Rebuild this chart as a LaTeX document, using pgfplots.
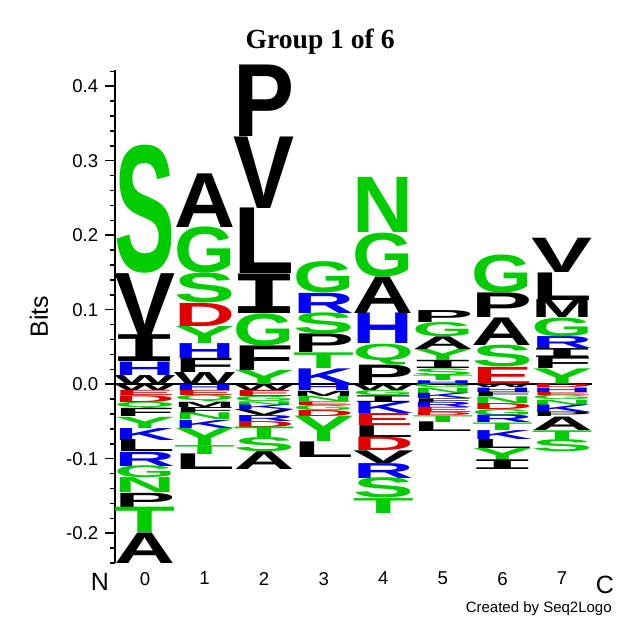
\documentclass[border=0pt]{standalone}
\usepackage{pgfplots}
\pgfplotsset{compat=1.18}
\usepackage{pgfplotstable}
\usepackage{graphicx}
\usepackage{fontspec}
\setmainfont{Liberation Sans}
\newfontfamily\titlefont{Liberation Serif}
\newfontfamily\monofont{DejaVu Sans Mono}
\definecolor{lgreen}{RGB}{0,204,0}
\definecolor{lred}{RGB}{225,0,0}
\definecolor{lblue}{RGB}{0,0,250}
% letter colours (Seq2Logo default scheme)
\def\lcA{black}\def\lcV{black}\def\lcL{black}\def\lcI{black}\def\lcP{black}
\def\lcW{black}\def\lcF{black}\def\lcM{black}
\def\lcD{lred}\def\lcE{lred}
\def\lcK{lblue}\def\lcR{lblue}\def\lcH{lblue}
\def\lcS{lgreen}\def\lcT{lgreen}\def\lcY{lgreen}\def\lcG{lgreen}
\def\lcN{lgreen}\def\lcQ{lgreen}\def\lcC{lgreen}
\newdimen\letterh
\newcommand\logoletter{%
  \pgfmathsetlength\letterh{\hval*372.5}%
  \ifdim\letterh<0.3pt \letterh=0.3pt\fi
  \edef\thelab{\pgfplotspointmeta}%
  \edef\thecol{\csname lc\thelab\endcsname}%
  \color{\thecol}%
  \if I\thelab
    \resizebox*{36pt}{\letterh}{\monofont\bfseries I}%
  \else
    \resizebox*{30.5pt}{\letterh}{\bfseries\thelab}%
  \fi}
\pgfplotsset{logo/.style={draw=none, mark=none,
  point meta=explicit symbolic,
  visualization depends on={\thisrow{hi}-\thisrow{lo} \as \hval},
  nodes near coords={\logoletter},
  nodes near coords align=center,
  every node near coord/.append style={anchor=center, inner sep=0pt, outer sep=0pt}}}
\pgfplotstableread{
x lo hi l
0 0 0.012 W
0 0.012 0.030 H
0 0.030 0.066 I
0 0.066 0.149 V
0 0.149 0.321 S
0 -0.008 0 W
0 -0.015 -0.008 E
0 -0.024 -0.015 D
0 -0.033 -0.024 Q
0 -0.044 -0.033 F
0 -0.059 -0.044 Y
0 -0.075 -0.059 K
0 -0.091 -0.075 L
0 -0.110 -0.091 R
0 -0.126 -0.110 G
0 -0.146 -0.126 N
0 -0.165 -0.146 P
0 -0.199 -0.165 T
0 -0.240 -0.199 A
}\colA
\pgfplotstableread{
x lo hi l
1 0 0.016 W
1 0.016 0.035 F
1 0.035 0.055 H
1 0.055 0.078 Y
1 0.078 0.109 D
1 0.109 0.149 S
1 0.149 0.211 G
1 0.211 0.283 A
1 -0.008 0 H
1 -0.015 -0.008 E
1 -0.024 -0.015 Q
1 -0.031 -0.024 M
1 -0.039 -0.031 F
1 -0.048 -0.039 N
1 -0.059 -0.048 K
1 -0.082 -0.059 Y
1 -0.094 -0.082 T
1 -0.115 -0.094 L
}\colB
\pgfplotstableread{
x lo hi l
2 0 0.019 Y
2 0.019 0.052 F
2 0.052 0.095 G
2 0.095 0.148 I
2 0.148 0.236 L
2 0.236 0.332 V
2 0.332 0.428 P
2 -0.008 0 W
2 -0.016 -0.008 E
2 -0.023 -0.016 G
2 -0.028 -0.023 N
2 -0.034 -0.028 K
2 -0.042 -0.034 V
2 -0.050 -0.042 R
2 -0.058 -0.050 D
2 -0.072 -0.058 T
2 -0.091 -0.072 S
2 -0.115 -0.091 A
}\colC
\pgfplotstableread{
x lo hi l
3 0 0.021 K
3 0.021 0.042 T
3 0.042 0.067 P
3 0.067 0.095 S
3 0.095 0.122 R
3 0.122 0.164 G
3 -0.009 0 H
3 -0.016 -0.009 M
3 -0.023 -0.016 N
3 -0.028 -0.023 E
3 -0.035 -0.028 G
3 -0.043 -0.035 D
3 -0.077 -0.043 Y
3 -0.098 -0.077 L
}\colD
\pgfplotstableread{
x lo hi l
4 0 0.026 P
4 0.026 0.054 Q
4 0.054 0.095 H
4 0.095 0.144 A
4 0.144 0.203 G
4 0.203 0.277 N
4 -0.008 0 W
4 -0.015 -0.008 G
4 -0.024 -0.015 I
4 -0.039 -0.024 K
4 -0.055 -0.039 E
4 -0.071 -0.055 L
4 -0.089 -0.071 D
4 -0.106 -0.089 V
4 -0.126 -0.106 R
4 -0.153 -0.126 S
4 -0.173 -0.153 T
}\colE
\pgfplotstableread{
x lo hi l
5 0 0.005 H
5 0.005 0.012 T
5 0.012 0.021 S
5 0.021 0.032 I
5 0.032 0.047 Y
5 0.047 0.064 A
5 0.064 0.083 G
5 0.083 0.099 P
5 -0.005 0 G
5 -0.012 -0.005 N
5 -0.019 -0.012 K
5 -0.024 -0.019 F
5 -0.031 -0.024 R
5 -0.038 -0.031 E
5 -0.042 -0.038 D
5 -0.051 -0.042 T
5 -0.064 -0.051 L
}\colF
\pgfplotstableread{
x lo hi l
6 0 0.023 E
6 0.023 0.052 S
6 0.052 0.089 A
6 0.089 0.122 P
6 0.122 0.173 G
6 -0.005 0 W
6 -0.011 -0.005 H
6 -0.017 -0.011 F
6 -0.026 -0.017 N
6 -0.034 -0.026 D
6 -0.042 -0.034 G
6 -0.052 -0.042 R
6 -0.062 -0.052 T
6 -0.074 -0.062 K
6 -0.086 -0.074 L
6 -0.102 -0.086 Y
6 -0.115 -0.102 I
}\colG
\pgfplotstableread{
x lo hi l
7 0 0.021 Y
7 0.021 0.036 F
7 0.036 0.048 I
7 0.048 0.064 R
7 0.064 0.089 G
7 0.089 0.113 M
7 0.113 0.150 L
7 0.150 0.196 V
7 -0.005 0 D
7 -0.011 -0.005 H
7 -0.015 -0.011 E
7 -0.021 -0.015 G
7 -0.028 -0.021 N
7 -0.038 -0.028 K
7 -0.044 -0.038 P
7 -0.062 -0.044 A
7 -0.075 -0.062 T
7 -0.091 -0.075 S
}\colH
\begin{document}
\begin{tikzpicture}
\begin{axis}[
  name=ax, at={(0,0)}, anchor=south west,
  x=29.79pt, y=372.5pt,
  xmin=-0.5, xmax=7.5, ymin=-0.24, ymax=0.422,
  clip=false,
  axis y line=left, axis x line=bottom,
  y axis line style={-, line width=0.8pt},
  x axis line style={draw=none},
  xtick={0,1,2,3,4,5,6,7},
  xtick style={draw=none},
  ytick={-0.2,-0.1,0,0.1,0.2,0.3,0.4},
  minor ytick={-0.24,-0.22,-0.18,-0.16,-0.14,-0.12,-0.08,-0.06,-0.04,-0.02,0.02,0.04,0.06,0.08,0.12,0.14,0.16,0.18,0.22,0.24,0.26,0.28,0.32,0.34,0.36,0.38,0.42},
  tick align=outside,
  major tick length=5pt, minor tick length=2.5pt,
  ytick style={black, line width=0.75pt},
  tick label style={font=\fontsize{9.3}{11}\selectfont},
  /pgf/number format/assume math mode=true,
  yticklabel style={/pgf/number format/.cd, fixed, fixed zerofill, precision=1, assume math mode=true},
  xticklabel style={yshift=4pt},
  ylabel={Bits},
  ylabel style={font=\fontsize{12.5}{14}\selectfont, at={(axis description cs:-0.16,0.5)}, anchor=center},
  title={Group 1 of 6},
  every axis title/.style={font=\titlefont\bfseries\fontsize{13.8}{16}\selectfont, at={(axis description cs:0.43,1.044)}, anchor=base},
]
\addplot[logo] table[x=x, y expr={(\thisrow{lo}+\thisrow{hi})/2}, meta=l] {\colA};
\addplot[logo] table[x=x, y expr={(\thisrow{lo}+\thisrow{hi})/2}, meta=l] {\colB};
\addplot[logo] table[x=x, y expr={(\thisrow{lo}+\thisrow{hi})/2}, meta=l] {\colC};
\addplot[logo] table[x=x, y expr={(\thisrow{lo}+\thisrow{hi})/2}, meta=l] {\colD};
\addplot[logo] table[x=x, y expr={(\thisrow{lo}+\thisrow{hi})/2}, meta=l] {\colE};
\addplot[logo] table[x=x, y expr={(\thisrow{lo}+\thisrow{hi})/2}, meta=l] {\colF};
\addplot[logo] table[x=x, y expr={(\thisrow{lo}+\thisrow{hi})/2}, meta=l] {\colG};
\addplot[logo] table[x=x, y expr={(\thisrow{lo}+\thisrow{hi})/2}, meta=l] {\colH};
\addplot[black, line width=0.8pt, mark=none] coordinates {(-0.5,0) (7.5,0)};
\node[anchor=base, font=\fontsize{12.5}{14}\selectfont] at (axis cs:-0.755,-0.2765) {N};
\node[anchor=base, font=\fontsize{12.5}{14}\selectfont] at (axis cs:7.72,-0.2805) {C};
\node[anchor=base east, font=\fontsize{7.5}{9}\selectfont, inner sep=0pt] at (axis cs:7.84,-0.306) {Created by Seq2Logo};
\end{axis}
\pgfresetboundingbox
\path (ax.south west) ++(-57.6pt,-38.5pt) rectangle ++(320pt,320pt);
\end{tikzpicture}
\end{document}
